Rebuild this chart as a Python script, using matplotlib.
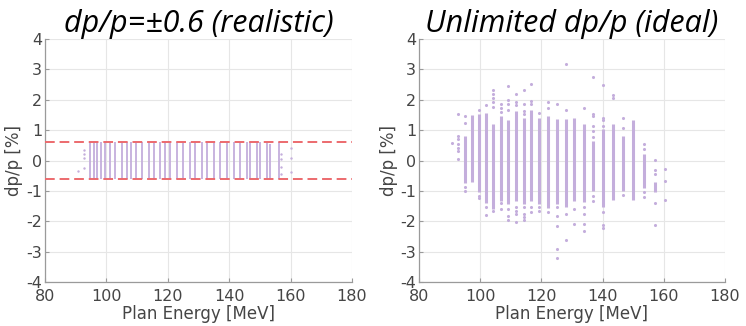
import numpy as np
import matplotlib.pyplot as plt

plt.rcParams['axes.unicode_minus'] = False

# ---- left panel (dp/p limited to +-0.6) ----
left_bar_E = [94.6, 95.9, 97.0, 98.2, 99.5, 101.3, 102.9, 105.0, 106.7, 108.0,
              109.5, 111.6, 113.8, 115.4, 117.6, 119.0, 120.8, 123.0, 124.9,
              127.3, 129.0, 131.1, 132.8, 135.0, 137.1, 139.3, 141.5, 143.4,
              145.8, 146.8, 149.0, 150.2, 152.3, 153.3, 156.1]
left_bar_lo = [-0.6] * len(left_bar_E)
left_bar_hi = [0.6] * 33 + [0.55, 0.6]
left_pts_E = [90.6, 92.6, 92.6, 92.6, 92.6, 156.8, 156.8, 156.8, 156.8, 160.0, 160.0, 160.0]
left_pts_v = [-0.34, 0.36, 0.23, 0.07, -0.26, 0.2, 0.05, -0.2, -0.45, 0.4, 0.07, -0.37]
limit = 0.6

# ---- right panel (unlimited dp/p): dense span per energy + sparse points ----
right_E = [95.0, 97.3, 99.6, 101.8, 104.2, 106.7, 109.1, 111.8, 114.2, 116.7,
           119.3, 122.3, 125.1, 127.9, 130.8, 133.9, 136.8, 140.1, 143.4, 146.6,
           150.0, 153.5, 157.0]
right_lo = [-0.75, -0.69, -1.02, -1.41, -1.6, -1.32, -1.43, -1.32, -1.43, -1.32,
            -1.43, -1.56, -1.43, -1.52, -1.34, -1.38, -0.99, -1.52, -1.3, -0.99,
            -1.3, -0.89, -1.05]
right_hi = [0.81, 1.5, 1.52, 1.57, 1.21, 1.46, 1.32, 1.63, 1.41, 1.68,
            1.41, 1.46, 1.36, 1.36, 1.41, 1.19, 0.64, 1.03, 1.21, 0.81,
            1.32, 0.21, -0.72]

sparse = {
    90.8: [0.58],
    92.6: [1.54, 0.81, 0.7, 0.56, 0.43, 0.32, 0.04],
    95.0: [1.46, 1.25, -0.86, -0.99],
    99.6: [1.68, -1.16, -1.23],
    101.8: [1.83, -1.52, -1.79],
    104.2: [2.31, 2.2, 2.07, 1.93, 1.76, -1.67],
    106.7: [1.85, 1.74, 1.61, -1.41, -1.6],
    109.1: [2.45, 1.98, 1.85, 1.68, -1.6, -1.81, -1.95],
    111.8: [2.2, 1.93, 1.83, -1.54, -1.65, -1.76, -2.03],
    114.2: [2.31, 1.87, 1.63, 1.54, -1.52, -1.76, -1.87, -1.96],
    116.7: [2.52, 1.96, 1.85, -1.54, -1.7],
    119.3: [1.57, -1.54, -1.65],
    122.3: [1.92, 1.74, -1.7],
    125.1: [1.87, -1.54, -1.81, -2.14, -2.91, -3.2],
    127.9: [3.18, 1.65, -1.76, -2.61],
    130.8: [-1.6, -2.09],
    133.9: [1.72, -1.54, -1.76, -2.09, -2.33],
    136.8: [2.74, 1.54, 1.46, 1.14, 0.97, 0.78, -1.16, -1.32],
    140.1: [2.5, 1.41, 1.32, 1.14, -1.7, -2.11, -2.22],
    143.4: [2.15, 2.05],
    146.6: [1.39, 1.06, -1.13],
    153.5: [0.54, 0.37, -1.05, -1.19],
    157.0: [0.01, -0.32, -0.43, -1.41, -2.11],
    160.4: [-0.28, -0.67, -1.3],
}

purple = '#c4aedc'
grid_c = '#e6e6e6'
txt_c = '#454545'

fig = plt.figure(figsize=(7.46, 3.26), dpi=100)
ax1 = fig.add_axes([0.0603, 0.135, 0.4115, 0.745])
ax2 = fig.add_axes([0.5617, 0.135, 0.410, 0.745])

ax1.vlines(left_bar_E, left_bar_lo, left_bar_hi, color=purple, lw=1.3, zorder=3)
ax1.scatter(left_pts_E, left_pts_v, s=3, color=purple, zorder=3, linewidths=0)
for lv in (limit, -limit):
    ax1.axhline(lv, color='#ec6a6e', lw=1.4, ls=(0, (5, 2.5)), zorder=4)

ax2.vlines(right_E, right_lo, right_hi, color=purple, lw=2.2, zorder=3)
sx = [e for e, vals in sparse.items() for _ in vals]
sy = [v for vals in sparse.values() for v in vals]
ax2.scatter(sx, sy, s=5, color=purple, zorder=3, linewidths=0)

titles = ['dp/p=\u00b10.6 (realistic)', 'Unlimited dp/p (ideal)']
for ax, t in zip((ax1, ax2), titles):
    ax.set_xlim(80, 180)
    ax.set_ylim(-4, 4)
    ax.set_xticks(range(80, 181, 20))
    ax.set_yticks(range(-4, 5))
    ax.grid(True, color=grid_c, lw=0.8)
    ax.set_axisbelow(True)
    for s in ('top', 'right'):
        ax.spines[s].set_visible(False)
    for s in ('left', 'bottom'):
        ax.spines[s].set_color('#9a9a9a')
        ax.spines[s].set_linewidth(0.9)
    ax.tick_params(direction='in', length=3, color='#9a9a9a', labelsize=11.5,
                   labelcolor=txt_c)
    ax.tick_params(axis='x', pad=5)
    ax.tick_params(axis='y', pad=2)
    ax.set_xlabel('Plan Energy [MeV]', fontsize=12, color=txt_c, labelpad=1)
    ax.set_ylabel('dp/p [%]', fontsize=12, color=txt_c)
    ax.yaxis.set_label_coords(-0.07, 0.5)
    ax.set_title(t, fontsize=22, style='italic', family='Open Sans', pad=2)

fig.savefig('out.png', dpi=100)
